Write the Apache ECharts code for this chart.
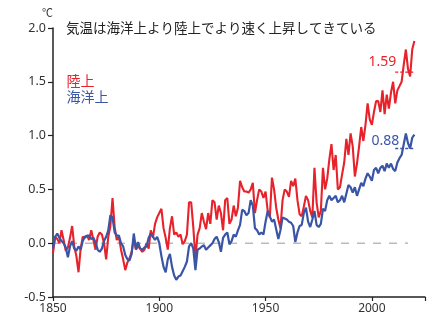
<!DOCTYPE html>
<html><head><meta charset="utf-8">
<script src="https://cdn.jsdelivr.net/npm/echarts@6/dist/echarts.min.js"></script>
<style>html,body{margin:0;padding:0;background:#fff}#c{width:428px;height:324px}</style>
</head><body><div id="c"></div>
<script>
const startYear = 1850;
const land = [
 -0.09,0.06,0.04,0.00,0.12,0.03,-0.07,-0.04,0.05,0.16,
 -0.03,-0.12,-0.27,-0.05,0.06,0.05,0.07,0.03,0.12,0.03,
 -0.06,0.06,0.10,0.08,0.00,-0.15,0.06,0.16,0.42,0.15,
 0.03,0.06,-0.06,-0.15,-0.25,-0.18,-0.14,-0.08,0.04,-0.06,
 -0.03,-0.05,-0.08,-0.06,0.00,-0.05,0.12,0.05,0.18,0.24,
 0.28,0.32,0.14,0.05,-0.06,0.14,0.25,0.08,0.10,0.06,
 0.08,-0.01,0.02,0.08,0.38,0.38,0.15,-0.14,0.08,0.14,
 0.28,0.20,0.13,0.28,0.18,0.40,0.38,0.22,0.35,0.28,
 0.12,0.40,0.42,0.18,0.22,0.35,0.25,0.33,0.58,0.52,
 0.48,0.48,0.47,0.50,0.56,0.28,0.40,0.50,0.48,0.42,
 0.48,0.30,0.24,0.61,0.50,0.33,0.22,0.14,0.40,0.50,
 0.48,0.43,0.58,0.53,0.60,0.40,0.27,0.25,0.34,0.44,
 0.40,0.30,0.24,0.70,0.38,0.24,0.30,0.70,0.50,0.60,
 0.78,0.92,0.68,0.82,0.50,0.52,0.64,0.75,0.97,0.82,
 1.02,0.90,0.62,0.74,0.90,1.08,0.95,1.10,1.30,1.15,
 1.10,1.22,1.32,1.32,1.22,1.42,1.20,1.38,1.25,1.40,
 1.50,1.30,1.42,1.46,1.50,1.66,1.80,1.62,1.55,1.80,
 1.88
];
const ocean = [
 -0.05,0.06,0.09,0.05,0.02,0.00,-0.04,-0.13,-0.03,0.02,
 -0.05,-0.07,-0.03,-0.06,0.02,0.06,0.07,0.07,0.04,0.05,
 0.01,-0.06,-0.08,-0.05,0.02,0.06,0.12,0.26,0.24,0.10,
 0.07,0.07,0.00,-0.03,-0.11,-0.15,-0.16,-0.10,0.09,-0.05,
 0.01,-0.05,-0.06,-0.04,-0.03,0.05,0.09,0.06,0.03,0.06,
 0.00,-0.12,-0.22,-0.27,-0.15,-0.10,-0.22,-0.30,-0.34,-0.31,
 -0.30,-0.26,-0.22,-0.17,-0.03,0.00,-0.05,-0.25,-0.06,-0.05,
 -0.03,-0.02,-0.06,-0.04,-0.02,0.00,0.04,0.06,0.01,-0.08,
 0.05,0.08,0.10,-0.01,0.02,0.08,0.06,0.12,0.17,0.31,
 0.30,0.26,0.28,0.40,0.35,0.14,0.12,0.08,0.10,0.08,
 0.20,0.30,0.25,0.20,0.22,0.13,0.04,0.12,0.24,0.23,
 0.22,0.20,0.19,0.16,0.01,0.10,0.16,0.17,0.28,0.33,
 0.20,0.15,0.22,0.30,0.17,0.15,0.18,0.32,0.30,0.40,
 0.44,0.40,0.42,0.44,0.38,0.40,0.44,0.38,0.46,0.54,
 0.52,0.47,0.52,0.44,0.50,0.56,0.53,0.60,0.65,0.62,
 0.58,0.68,0.70,0.65,0.70,0.72,0.67,0.74,0.70,0.74,
 0.69,0.67,0.75,0.79,0.82,0.92,1.02,0.93,0.88,0.98,
 1.01
];
const landMean = 1.59;
const oceanMean = 0.88;
const meanYears = [2011, 2020];
const zeroLineYears = [1850, 2017];
const xTicks = [1850, 1900, 1950, 2000];
const yTicks = [-0.5, 0.0, 0.5, 1.0, 1.5, 2.0];
const title = '気温は海洋上より陸上でより速く上昇してきている';
const landName = '陸上';
const oceanName = '海洋上';
const unit = '℃';

const RED = '#e8222b', BLUE = '#3b55a6';
const years = land.map((_, i) => startYear + i);
const chart = echarts.init(document.getElementById('c'), null, {renderer: 'canvas'});
const numFont = "'Noto Sans', 'DejaVu Sans', sans-serif";
const jpFont = "'Noto Sans CJK JP', sans-serif";

chart.setOption({
  animation: false,
  grid: {left: 53, right: 1, top: 28, bottom: 27},
  legend: {
    orient: 'vertical', left: 56.5, top: 69, icon: 'none', itemWidth: 0, itemHeight: 14, itemGap: 2,
    selectedMode: false,
    textStyle: {fontFamily: jpFont, fontSize: 14},
    data: [{name: landName, textStyle: {color: RED}}, {name: oceanName, textStyle: {color: BLUE}}]
  },
  xAxis: {
    type: 'value', min: xTicks[0], max: 2025, interval: 50,
    axisLine: {onZero: false, lineStyle: {color: '#222', width: 1.5}},
    axisTick: {show: true, length: 4, lineStyle: {color: '#222', width: 1.2}},
    axisLabel: {color: '#333', fontSize: 12, fontFamily: numFont, margin: 6,
      formatter: v => xTicks.includes(v) ? String(v) : ''},
    splitLine: {show: false}
  },
  yAxis: {
    type: 'value', min: yTicks[0], max: yTicks[yTicks.length - 1], interval: 0.5,
    axisLine: {show: true, lineStyle: {color: '#222', width: 1.5}},
    axisTick: {show: true, length: 5, lineStyle: {color: '#222', width: 1.2}},
    axisLabel: {color: '#333', fontSize: 12.5, fontFamily: numFont, margin: 7,
      formatter: v => v.toFixed(1)},
    splitLine: {show: false}
  },
  series: [
    {type: 'line', name: 'zero', data: zeroLineYears.map(y => [y, 0]), showSymbol: false, silent: true, z: 1,
      lineStyle: {color: '#aaaaaa', width: 1.2, type: [8, 8]}},
    {type: 'line', name: landName, data: years.map((y, i) => [y, land[i]]), showSymbol: false, z: 3,
      itemStyle: {color: RED}, lineStyle: {color: RED, width: 2.1}},
    {type: 'line', name: oceanName, data: years.map((y, i) => [y, ocean[i]]), showSymbol: false, z: 4,
      itemStyle: {color: BLUE}, lineStyle: {color: BLUE, width: 2.2}},
    {type: 'line', name: 'landMean', data: meanYears.map(y => [y, landMean]), showSymbol: false, z: 5,
      lineStyle: {color: RED, width: 1.3, type: [3, 2]}},
    {type: 'line', name: 'oceanMean', data: meanYears.map(y => [y, oceanMean]), showSymbol: false, z: 5,
      lineStyle: {color: BLUE, width: 1.3, type: [3, 2]}}
  ]
});

const pL = chart.convertToPixel({gridIndex: 0}, [meanYears[0], landMean]);
const pO = chart.convertToPixel({gridIndex: 0}, [meanYears[0], oceanMean]);
chart.setOption({
  graphic: [
    {type: 'text', left: 42, top: 7, style: {text: unit, fontSize: 11, fill: '#333', fontFamily: jpFont}},
    {type: 'text', left: 66, top: 21, style: {text: title, fontSize: 13.5, fill: '#222', fontFamily: jpFont}},
    {type: 'text', x: pL[0] + 1, y: pL[1] - 10, style: {text: landMean.toFixed(2), fill: RED, fontSize: 14,
      fontFamily: numFont, align: 'right', verticalAlign: 'middle'}},
    {type: 'text', x: pO[0] + 4, y: pO[1] - 7, style: {text: oceanMean.toFixed(2), fill: BLUE, fontSize: 14,
      fontFamily: numFont, align: 'right', verticalAlign: 'middle'}}
  ]
});
</script></body></html>
